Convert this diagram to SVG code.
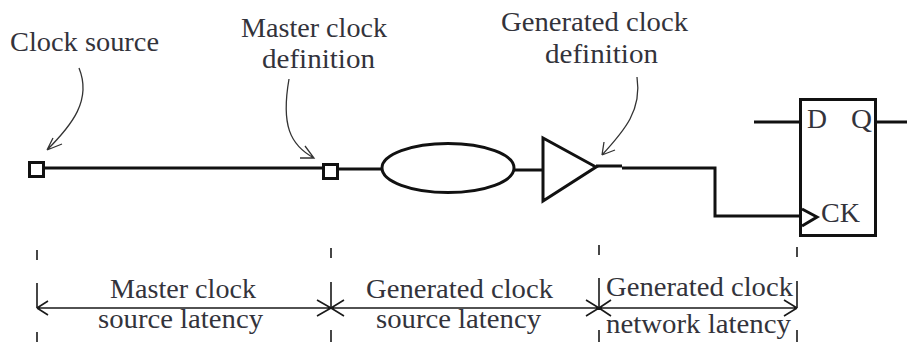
<svg xmlns="http://www.w3.org/2000/svg" width="907" height="342" viewBox="0 0 907 342">
<style>
text{font-family:"Liberation Serif","Times New Roman",serif;font-size:28px;fill:#33333b;text-anchor:start}
.w{fill:none;stroke:#111;stroke-width:3}
.t{fill:none;stroke:#1a1a1a;stroke-width:1.6}
.c{fill:none;stroke:#333;stroke-width:1.3}
</style>
<rect width="907" height="342" fill="#fff"/>
<g id="connectors">
<path class="w" d="M43 168H323M337 169H382M514 170H543M596 166H622M622 168H715V216H802M754 122H800M876 122H907"/>
<path class="c" d="M79 68C92 100 72 125 47 150M47 150L62 144M47 150L53 138"/>
<path class="c" d="M289 79C281 125 290 145 314 158M300 158L314 158L305 146"/>
<path class="c" d="M637 77C642 110 625 130 602 155M602 155L604 142M602 155L615 150"/>
<path class="t" d="M37 260V250M37 283V308M37 332V342M331 258V248M331 282V308M331 330V342M599 255V245M599 278V308M599 330V342M797 257V247M797 281V308M797 330V342"/>
<path class="t" d="M37 308H331M37 308L48 301M37 308L48 315M331 308L317 300M331 308L317 316M331 308H599M331 308L344 300M331 308L344 316M599 308L586 300M599 308L586 316M599 308H797M599 308L611 300M599 308L611 316M797 308L784 300M797 308L784 316"/>
</g>
<g id="clock-source"><rect class="w" x="29.500" y="162.500" width="14" height="14" fill="#fff"/><text x="10" y="51" textLength="149" lengthAdjust="spacingAndGlyphs">Clock source</text></g>
<g id="master-clock-definition"><rect class="w" x="323.500" y="164.500" width="14" height="14"/><text x="241" y="37" textLength="146" lengthAdjust="spacingAndGlyphs">Master clock</text><text x="262" y="68" textLength="113" lengthAdjust="spacingAndGlyphs">definition</text></g>
<g id="ellipse"><ellipse class="w" cx="448" cy="168" rx="66" ry="24.500"/></g>
<g id="buffer"><path class="w" d="M543 138V201L596 167Z"/></g>
<g id="generated-clock-definition"><text x="501" y="31" textLength="187" lengthAdjust="spacingAndGlyphs">Generated clock</text><text x="545" y="63" textLength="113" lengthAdjust="spacingAndGlyphs">definition</text></g>
<g id="flip-flop"><rect class="w" x="800.500" y="99.500" width="75" height="136"/><path class="w" d="M802 209L817 217L802 226"/><text x="807" y="128" textLength="20" lengthAdjust="spacingAndGlyphs">D</text><text x="851" y="128" textLength="21" lengthAdjust="spacingAndGlyphs">Q</text><text x="821" y="222" textLength="39" lengthAdjust="spacingAndGlyphs">CK</text></g>
<g id="master-latency"><text x="110" y="298" textLength="146" lengthAdjust="spacingAndGlyphs">Master clock</text><text x="98" y="328" textLength="165" lengthAdjust="spacingAndGlyphs">source latency</text></g>
<g id="generated-latency"><text x="366" y="298" textLength="187" lengthAdjust="spacingAndGlyphs">Generated clock</text><text x="376" y="328" textLength="165" lengthAdjust="spacingAndGlyphs">source latency</text></g>
<g id="network-latency"><text x="606" y="296" textLength="187" lengthAdjust="spacingAndGlyphs">Generated clock</text><text x="606" y="333" textLength="185" lengthAdjust="spacingAndGlyphs">network latency</text></g>
</svg>
